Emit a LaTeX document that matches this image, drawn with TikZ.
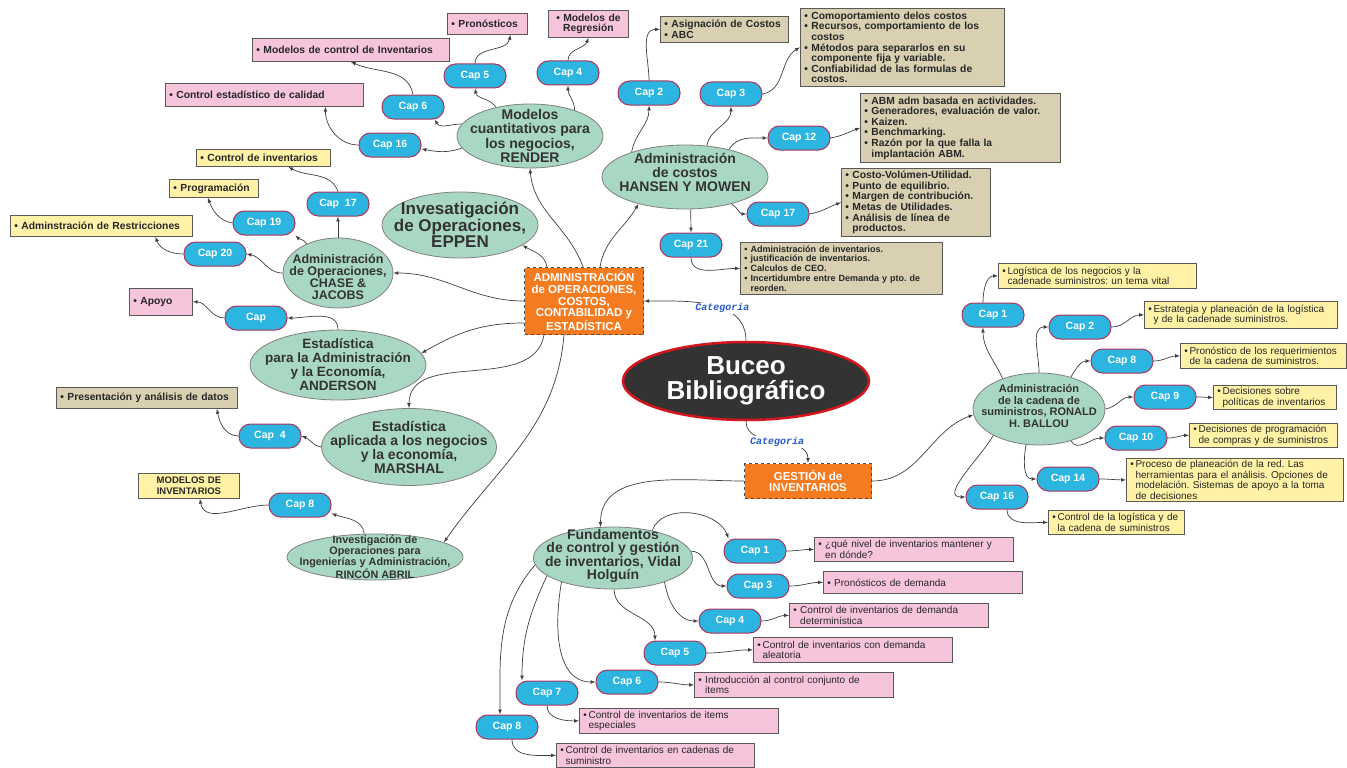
\documentclass[tikz,border=0pt]{standalone}
\usepackage{fontspec}
\setmainfont{Liberation Sans}
\newfontfamily\catfont{Liberation Mono}
\usetikzlibrary{shapes.geometric}
\frenchspacing

\definecolor{capazul}{RGB}{43,181,224}
\definecolor{capborde}{RGB}{176,52,90}
\definecolor{menta}{RGB}{168,215,195}
\definecolor{rosa}{RGB}{246,197,219}
\definecolor{arena}{RGB}{217,208,178}
\definecolor{amarillo}{RGB}{255,242,166}
\definecolor{naranja}{RGB}{244,123,32}
\definecolor{rojo}{RGB}{212,22,30}
\definecolor{oscuro}{RGB}{51,51,51}
\definecolor{azulcat}{RGB}{40,90,205}

\newcommand\tam[2]{\fontsize{#1}{#2}\selectfont}
\newcommand\vineta{\textbullet\ }
\newcommand\sigue{\phantom{\textbullet\ }}
\newcommand\vinb{\textbullet\,}
\newcommand\sigueb{\phantom{\textbullet\,}}

\tikzset{
	libro/.style={ellipse, draw=black!50, line width=0.8pt, fill=menta, inner sep=0pt},
	librotxt/.style 2 args={align=center, text=black!80, font=\bfseries\tam{#1}{#2}},
	capitulo/.style={rectangle, rounded corners=11.5pt, draw=capborde, line width=1pt, fill=capazul, text=white, font=\bfseries\tam{10.5}{12}, minimum width=62pt, minimum height=24pt, inner sep=0pt},
	nota/.style={rectangle, draw=black!65, line width=0.8pt, anchor=north west, inner xsep=4pt, inner ysep=0pt, align=left, text=black!85},
	negrita/.style={font=\bfseries\tam{10.3}{10.6}},
	fina/.style={font=\tam{10}{10.8}},
	categ/.style={rectangle, draw=black!70, dashed, line width=1.2pt, fill=naranja, text=white, font=\bfseries\tam{11.5}{11.6}, align=center, inner sep=0pt},
	flecha/.style={-latex, draw=black!75, line width=0.7pt},
	etiq/.style={fill=white, inner sep=1pt, text=azulcat, font=\catfont\bfseries\itshape\tam{10}{10}}
}

\begin{document}
\begin{tikzpicture}[x=1pt, y=-1pt]
	\useasboundingbox[fill=white] (0,0) rectangle (1347,768);

	\node[ellipse, fill=oscuro, draw=rojo, line width=2.5pt, minimum width=246pt, minimum height=78pt, inner sep=0pt, label={[text=white, align=center, font=\bfseries\tam{26}{25}]center:{Buceo\\Bibliográfico}}] (buceo) at (746,381) {};
	\node[categ, minimum width=119pt, minimum height=67pt] (adm) at (584,301) {ADMINISTRACIÓN\\de OPERACIONES,\\COSTOS,\\CONTABILIDAD y\\ESTADÍSTICA};
	\node[categ, minimum width=127pt, minimum height=35pt] (gest) at (808,481) {GESTIÓN de\\INVENTARIOS};

	\node[libro, minimum width=146pt, minimum height=64pt, label={[librotxt={14}{14.3}]center:{Modelos\\cuantitativos para\\los negocios,\\RENDER}}] (render) at (530,136) {};
	\node[libro, minimum width=156pt, minimum height=66pt, label={[librotxt={17}{16.5}]center:{Invesatigación\\de Operaciones,\\EPPEN}}] (eppen) at (460,225) {};
	\node[libro, minimum width=110pt, minimum height=70pt, label={[librotxt={12.5}{12.3}, yshift=-4pt]center:{Administración\\de Operaciones,\\CHASE \&\\JACOBS}}] (chase) at (338,273) {};
	\node[libro, minimum width=176pt, minimum height=70pt, label={[librotxt={13.5}{14}]center:{Estadística\\para la Administración\\y la Economía,\\ANDERSON}}] (anderson) at (338,365) {};
	\node[libro, minimum width=175pt, minimum height=77pt, label={[librotxt={14}{14}]center:{Estadística\\aplicada a los negocios\\y la economía,\\MARSHAL}}] (marshal) at (409,447) {};
	\node[libro, minimum width=176pt, minimum height=46pt, label={[librotxt={10.8}{10.8}]center:{Investigación de\\Operaciones para\\Ingenierías y Administración,\\RINCÓN ABRIL}}] (rincon) at (375,557) {};
	\node[libro, minimum width=166pt, minimum height=64pt, label={[librotxt={14}{14}, yshift=5pt]center:{Administración\\de costos\\HANSEN Y MOWEN}}] (hansen) at (685,177) {};
	\node[libro, minimum width=132pt, minimum height=72pt, label={[librotxt={11}{11.7}, yshift=3pt]center:{Administración\\de la cadena de\\suministros, RONALD\\H. BALLOU}}] (ballou) at (1039,409) {};
	\node[libro, minimum width=159pt, minimum height=62pt, label={[librotxt={14}{13.4}, yshift=2pt]center:{Fundamentos\\de control y gestión\\de inventarios, Vidal\\Holguín}}] (vidal) at (613,558) {};

	\node[capitulo] (r5) at (475,76) {Cap 5};
	\node[capitulo] (r4) at (568,73) {Cap 4};
	\node[capitulo] (r6) at (413,107) {Cap 6};
	\node[capitulo] (r16) at (390,145) {Cap 16};
	\node[capitulo] (h2) at (649,93) {Cap 2};
	\node[capitulo] (h3) at (731,94) {Cap 3};
	\node[capitulo] (h12) at (799,138) {Cap 12};
	\node[capitulo] (h17) at (778,214) {Cap 17};
	\node[capitulo] (h21) at (691,245) {Cap 21};
	\node[capitulo] (c17) at (338,204) {Cap\ \ 17};
	\node[capitulo] (c19) at (264,223) {Cap 19};
	\node[capitulo] (c20) at (215,254) {Cap 20};
	\node[capitulo] (an) at (256,318) {Cap};
	\node[capitulo] (m4) at (270,436) {Cap\ \ 4};
	\node[capitulo] (ri8) at (300,505) {Cap 8};
	\node[capitulo] (b1) at (993,315) {Cap 1};
	\node[capitulo] (b2) at (1080,327) {Cap 2};
	\node[capitulo] (b8) at (1122,361) {Cap 8};
	\node[capitulo] (b9) at (1165,397) {Cap 9};
	\node[capitulo] (b10) at (1136,438) {Cap 10};
	\node[capitulo] (b14) at (1068,479) {Cap 14};
	\node[capitulo] (b16) at (997,497) {Cap 16};
	\node[capitulo] (v1) at (755,551) {Cap 1};
	\node[capitulo] (v3) at (758,586) {Cap 3};
	\node[capitulo] (v4) at (730,621) {Cap 4};
	\node[capitulo] (v5) at (675,653) {Cap 5};
	\node[capitulo] (v6) at (627,682) {Cap 6};
	\node[capitulo] (v7) at (547,693) {Cap 7};
	\node[capitulo] (v8) at (507,727) {Cap 8};

	\node[nota, negrita, fill=rosa, text width=72pt, minimum height=21pt] (r5n) at (447,13) {\vineta Pronósticos};
	\node[nota, negrita, fill=rosa, text width=72pt, minimum height=27pt, align=center] (r4n) at (548,10) {\vineta Modelos de\\Regresión};
	\node[nota, negrita, fill=rosa, text width=189pt, minimum height=23pt] (r6n) at (252,38) {\vineta Modelos de control de Inventarios};
	\node[nota, negrita, fill=rosa, text width=190pt, minimum height=23pt] (r16n) at (165,83) {\vineta Control estadístico de calidad};
	\node[nota, negrita, fill=arena, text width=120pt, minimum height=26pt] (h2n) at (660,16) {\vineta Asignación de Costos\\\vineta ABC};
	\node[nota, negrita, fill=arena, text width=196pt, minimum height=78pt] (h3n) at (800,8) {\vineta Comoportamiento delos costos\\\vineta Recursos, comportamiento de los\\\sigue costos\\\vineta Métodos para separarlos en su\\\sigue componente fija y variable.\\\vineta Confiabilidad de las formulas de\\\sigue costos.};
	\node[nota, negrita, fill=arena, text width=192pt, minimum height=69pt] (h12n) at (860,93) {\vineta ABM adm basada en actividades.\\\vineta Generadores, evaluación de valor.\\\vineta Kaizen.\\\vineta Benchmarking.\\\vineta Razón por la que falla la\\\sigue implantación ABM.};
	\node[nota, negrita, fill=arena, text width=141pt, minimum height=68pt] (h17n) at (841,168) {\vineta Costo-Volúmen-Utilidad.\\\vineta Punto de equilibrio.\\\vineta Margen de contribución.\\\vineta Metas de Utilidades.\\\vineta Análisis de línea de\\\sigue productos.};
	\node[nota, fill=arena, text width=194pt, minimum height=52pt, font=\bfseries\tam{9}{9.8}] (h21n) at (740,242) {\vineta Administración de inventarios.\\\vineta justificación de inventarios.\\\vineta Calculos de CEO.\\\vineta Incertidumbre entre Demanda y pto. de\\\sigue reorden.};
	\node[nota, negrita, fill=amarillo, text width=126pt, minimum height=17pt] (c17n) at (196,149) {\vineta Control de inventarios};
	\node[nota, negrita, fill=amarillo, text width=81pt, minimum height=18pt] (c19n) at (169,179) {\vineta Programación};
	\node[nota, negrita, fill=amarillo, text width=174pt, minimum height=21pt] (c20n) at (10,215) {\vineta Adminstración de Restricciones};
	\node[nota, negrita, fill=rosa, text width=55pt, minimum height=27pt] (ann) at (129,288) {\vineta Apoyo};
	\node[nota, negrita, fill=arena, text width=173pt, minimum height=21pt] (m4n) at (56,387) {\vineta Presentación y análisis de datos};
	\node[nota, fill=amarillo, text width=93pt, minimum height=25pt, align=center, font=\bfseries\tam{9.5}{10.5}] (ri8n) at (138,473) {MODELOS DE\\INVENTARIOS};
	\node[nota, fina, fill=amarillo, text width=190pt, minimum height=25pt] (b1n) at (998,263) {\vinb Logística de los negocios y la\\\sigueb cadenade suministros: un tema vital};
	\node[nota, fina, fill=amarillo, text width=185pt, minimum height=27pt] (b2n) at (1144,301) {\vinb Estrategia y planeación de la logística\\\sigueb y de la cadenade suministros.};
	\node[nota, fina, fill=amarillo, text width=158pt, minimum height=25pt] (b8n) at (1180,343) {\vinb Pronóstico de los requerimientos\\\sigueb de la cadena de suministros.};
	\node[nota, fina, fill=amarillo, text width=115pt, minimum height=24pt] (b9n) at (1213,385) {\vinb Decisiones sobre\\\sigueb políticas de inventarios};
	\node[nota, fina, fill=amarillo, text width=140pt, minimum height=24pt] (b10n) at (1189,423) {\vinb Decisiones de programación\\\sigueb de compras y de suministros};
	\node[nota, fina, fill=amarillo, text width=209pt, minimum height=43pt] (b14n) at (1126,458) {\vinb Proceso de planeación de la red. Las\\\sigueb herramientas para el análisis. Opciones de\\\sigueb modelación. Sistemas de apoyo a la toma\\\sigueb de decisiones};
	\node[nota, fina, fill=amarillo, text width=128pt, minimum height=24pt] (b16n) at (1048,510) {\vinb Control de la logística y de\\\sigueb la cadena de suministros};
	\node[nota, fina, fill=rosa, text width=191pt, minimum height=24pt] (v1n) at (814,537) {\vineta ¿qué nivel de inventarios mantener y\\\sigue en dónde?};
	\node[nota, fina, fill=rosa, text width=191pt, minimum height=22pt] (v3n) at (823,571) {\vineta Pronósticos de demanda};
	\node[nota, fina, fill=rosa, text width=191pt, minimum height=24pt] (v4n) at (789,603) {\vineta Control de inventarios de demanda\\\sigue determinística};
	\node[nota, fina, fill=rosa, text width=191pt, minimum height=25pt] (v5n) at (753,637) {\vinb Control de inventarios con demanda\\\sigueb aleatoria};
	\node[nota, fina, fill=rosa, text width=191pt, minimum height=25pt] (v6n) at (694,672) {\vineta Introducción al control conjunto de\\\sigue items};
	\node[nota, fina, fill=rosa, text width=191pt, minimum height=25pt] (v7n) at (579,708) {\vinb Control de inventarios de items\\\sigueb especiales};
	\node[nota, fina, fill=rosa, text width=190pt, minimum height=24pt] (v8n) at (556,743) {\vinb Control de inventarios en cadenas de\\\sigueb suministro};

	\draw[flecha] (buceo.north) to[out=90,in=0] node[etiq, pos=0.4] (cat1) {Categoria} (adm.east);
	\draw[flecha] (buceo.south) to[out=-90,in=90] node[etiq, pos=0.5] (cat2) {Categoria} (gest.north);

	\draw[flecha] ([xshift=-1pt]adm.north) to[out=110,in=-85] (render.south);
	\draw[flecha] ([xshift=16pt]adm.north) to[out=80,in=-120] (hansen.-150);
	\draw[flecha] ([xshift=-37pt]adm.north) to[out=100,in=-30] (eppen.-18);
	\draw[flecha] (adm.west) to[out=180,in=0] (chase.east);
	\draw[flecha] ([yshift=-22pt]adm.west) to[out=180,in=30] (anderson.8);
	\draw[flecha] ([xshift=-40pt]adm.south) to[out=-100,in=90] (marshal.north);
	\draw[flecha] ([xshift=-20pt]adm.south) to[out=-95,in=55] (rincon.12);

	\draw[flecha] (render.140) to[out=120,in=-80] (r5.south);
	\draw[flecha] (render.30) to[out=90,in=-90] (r4.south);
	\draw[flecha] (render.170) to[out=180,in=-60] (r6.-30);
	\draw[flecha] (render.190) to[out=200,in=-10] ([yshift=-4pt]r16.east);
	\draw[flecha] (r5.north) to[out=90,in=-100] ([xshift=23pt]r5n.south);
	\draw[flecha] (r4.north) to[out=90,in=-110] (r4n.south);
	\draw[flecha] (r6.north) to[out=100,in=-25] (r6n.south);
	\draw[flecha] (r16.west) to[out=180,in=-90] ([xshift=61pt]r16n.south);

	\draw[flecha] (hansen.155) to[out=80,in=-90] (h2.south);
	\draw[flecha] (hansen.55) to[out=80,in=-90] (h3.south);
	\draw[flecha] (hansen.32) to[out=60,in=180] (h12.west);
	\draw[flecha] (hansen.-30) to[out=-30,in=180] (h17.west);
	\draw[flecha] (hansen.-80) -- (h21.north);
	\draw[flecha] (h2.north) to[out=90,in=180] (h2n.west);
	\draw[flecha] (h3.east) to[out=10,in=-150] (h3n.west);
	\draw[flecha] (h12.east) to[out=10,in=-160] (h12n.west);
	\draw[flecha] (h17.east) to[out=10,in=-160] (h17n.west);
	\draw[flecha] (h21.south) to[out=-90,in=180] (h21n.west);

	\draw[flecha] (chase.north) -- (c17.south);
	\draw[flecha] (chase.137) to[out=120,in=-45] (c19.south east);
	\draw[flecha] (chase.west) to[out=180,in=-10] (c20.east);
	\draw[flecha] (c17.north) to[out=110,in=-30] ([xshift=25pt]c17n.south);
	\draw[flecha] (c19.west) to[out=170,in=-70] ([xshift=-6pt]c19n.south);
	\draw[flecha] (c20.west) to[out=180,in=-70] ([xshift=54pt]c20n.south);

	\draw[flecha] (anderson.north) to[out=90,in=0] (an.east);
	\draw[flecha] (an.west) to[out=180,in=0] (ann.east);
	\draw[flecha] (marshal.west) to[out=170,in=-20] (m4.east);
	\draw[flecha] (m4.west) to[out=180,in=-80] ([xshift=70pt]m4n.south);
	\draw[flecha] (rincon.115) to[out=95,in=-20] (ri8.-15);
	\draw[flecha] (ri8.west) to[out=180,in=-80] ([xshift=11pt]ri8n.south);

	\draw[flecha] (gest.west) to[out=180,in=90] (vidal.112);
	\draw[flecha] (gest.east) to[out=0,in=200] (ballou.185);

	\draw[flecha] (ballou.140) to[out=115,in=-90] ([xshift=-10pt]b1.south);
	\draw[flecha] (ballou.90) to[out=90,in=180] (b2.west);
	\draw[flecha] (ballou.45) to[out=60,in=180] (b8.west);
	\draw[flecha] (ballou.east) to[out=10,in=180] (b9.west);
	\draw[flecha] (ballou.-45) to[out=-60,in=180] (b10.west);
	\draw[flecha] (ballou.-110) to[out=-100,in=180] (b14.west);
	\draw[flecha] (ballou.-150) to[out=-120,in=180] (b16.west);
	\draw[flecha] ([xshift=-10pt]b1.north) to[out=90,in=180] (b1n.west);
	\draw[flecha] (b2.east) to[out=0,in=180] (b2n.west);
	\draw[flecha] (b8.east) to[out=0,in=180] (b8n.west);
	\draw[flecha] (b9.east) to[out=0,in=180] (b9n.west);
	\draw[flecha] (b10.east) to[out=0,in=180] (b10n.west);
	\draw[flecha] (b14.east) to[out=0,in=180] (b14n.west);
	\draw[flecha] ([xshift=10pt]b16.south) to[out=-90,in=180] (b16n.west);

	\draw[flecha] (vidal.35) to[out=70,in=110] ([xshift=5pt]v1.north west);
	\draw[flecha] (vidal.5) to[out=0,in=180] (v3.west);
	\draw[flecha] (vidal.-25) to[out=-80,in=180] (v4.west);
	\draw[flecha] (vidal.-88) to[out=-90,in=90] ([xshift=-20pt]v5.north);
	\draw[flecha] (vidal.-155) to[out=-100,in=180] (v6.west);
	\draw[flecha] (vidal.-165) to[out=-115,in=90] ([xshift=-25pt]v7.north);
	\draw[flecha] (vidal.-175) to[out=-130,in=90] ([xshift=-7pt]v8.north);
	\draw[flecha] (v1.east) to[out=0,in=180] (v1n.west);
	\draw[flecha] (v3.east) to[out=0,in=180] (v3n.west);
	\draw[flecha] (v4.east) to[out=0,in=180] (v4n.west);
	\draw[flecha] (v5.east) to[out=0,in=180] (v5n.west);
	\draw[flecha] (v6.east) to[out=0,in=180] (v6n.west);
	\draw[flecha] (v7.south) to[out=-90,in=180] (v7n.west);
	\draw[flecha] ([xshift=5pt]v8.south) to[out=-90,in=180] (v8n.west);
\end{tikzpicture}
\end{document}
